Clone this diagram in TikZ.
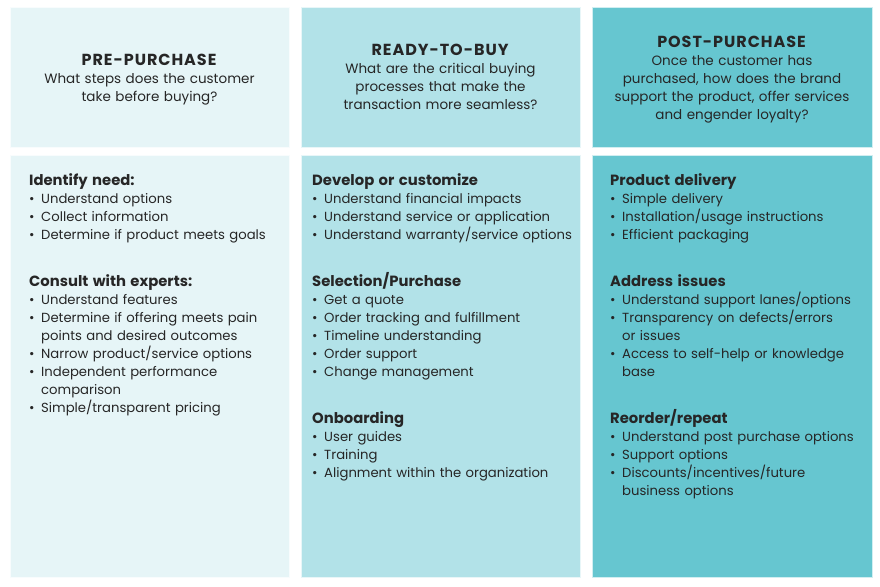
\documentclass[tikz,border=0pt]{standalone}
\usepackage{fontspec}
\setmainfont{Poppins}
\usetikzlibrary{positioning}
\usetikzlibrary{calc}

\definecolor{paleteal}{RGB}{230,245,247}
\definecolor{midteal}{RGB}{178,226,232}
\definecolor{deepteal}{RGB}{102,198,208}
\definecolor{inkgrey}{RGB}{38,38,38}

% one bullet line, \nxt continues under the text
\newcommand\itm[1]{\par\noindent\makebox[12pt][l]{\textbullet}#1}
\newcommand\nxt{\\\hspace*{12pt}}
\newcommand\grp[1]{\par\vspace{29pt}\noindent{\fontsize{14.8}{18}\selectfont\textbf{#1}}}
\newcommand\hed[1]{\noindent{\fontsize{14.8}{18}\selectfont\textbf{#1}}}
\newcommand\ttl[1]{{\fontsize{16}{18}\selectfont\addfontfeature{LetterSpace=6}\textbf{#1}}}

\begin{document}
\begin{tikzpicture}[x=1pt, y=-1pt,
    panel/.style={draw=white!70!#1, line width=.6pt},
    title/.style={text width=270pt, align=center, anchor=base, inner sep=0,
        text=inkgrey, font=\fontsize{13.5}{18}\selectfont},
    list/.style={text width=266pt, align=left, anchor=base west, inner sep=0,
        text=inkgrey, font=\fontsize{13.2}{18}\selectfont}]
    \newcommand\rowtop{7}
\newcommand\rowmid{147}
\newcommand\rowlow{155}
\newcommand\rowbot{577}

\useasboundingbox (0, 0) rectangle (880, 586);

\foreach \l/\r/\c in {10/289/paleteal, 301/580/midteal, 592/872/deepteal}{
    \fill[\c, panel=\c] (\l, \rowtop) rectangle (\r, \rowmid);
    \fill[\c, panel=\c] (\l, \rowlow) rectangle (\r, \rowbot);
}

% top row
\node[title] (pre-title) at (149.5, 65.5)
    {\ttl{PRE-PURCHASE}\\
    What steps does the customer\\ take before buying?};
\node[title] (ready-title) at (440.5, 55.5)
    {\ttl{READY-TO-BUY}\\
    What are the critical buying\\ processes that make the\\
    transaction more seamless?};
\node[title] (post-title) at (732, 47.5)
    {\ttl{POST-PURCHASE}\\
    Once the customer has\\ purchased, how does the brand\\
    support the product, offer services\\ and engender loyalty?};

% bottom row
\node[list] (pre-list) at (29, 185) {%
    \hed{Identify need:}
    \itm{Understand options}
    \itm{Collect information}
    \itm{Determine if product meets goals}
    \grp{Consult with experts:}
    \itm{Understand features}
    \itm{Determine if offering meets pain\nxt points and desired outcomes}
    \itm{Narrow product/service options}
    \itm{Independent performance\nxt comparison}
    \itm{Simple/transparent pricing}};

\node[list] (ready-list) at (312, 185) {%
    \hed{Develop or customize}
    \itm{Understand financial impacts}
    \itm{Understand service or application}
    \itm{Understand warranty/service options}
    \grp{Selection/Purchase}
    \itm{Get a quote}
    \itm{Order tracking and fulfillment}
    \itm{Timeline understanding}
    \itm{Order support}
    \itm{Change management}
    \grp{Onboarding}
    \itm{User guides}
    \itm{Training}
    \itm{Alignment within the organization}};

\node[list] (post-list) at (610, 185) {%
    \hed{Product delivery}
    \itm{Simple delivery}
    \itm{Installation/usage instructions}
    \itm{Efficient packaging}
    \grp{Address issues}
    \itm{Understand support lanes/options}
    \itm{Transparency on defects/errors\nxt or issues}
    \itm{Access to self-help or knowledge\nxt base}
    \grp{Reorder/repeat}
    \itm{Understand post purchase options}
    \itm{Support options}
    \itm{Discounts/incentives/future\nxt business options}};
\end{tikzpicture}
\end{document}
